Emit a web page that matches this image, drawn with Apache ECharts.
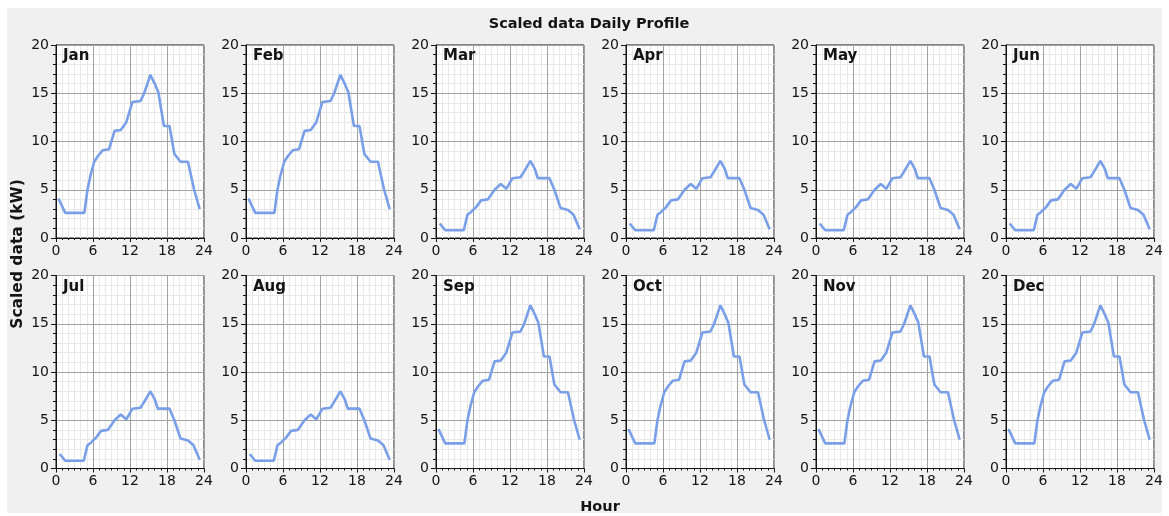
<!DOCTYPE html>
<html>
<head>
<meta charset="utf-8">
<title>Scaled data Daily Profile</title>
<script src="https://cdn.jsdelivr.net/npm/echarts@6/dist/echarts.min.js"></script>
<style>
  html, body { margin: 0; padding: 0; background: #ffffff; }
  #wrap { position: relative; width: 1169px; height: 516px; }
  #panel { position: absolute; left: 7px; top: 8px; width: 1155px; height: 505px; background: #f0f0f0; }
  #chart { position: absolute; left: 0; top: 0; width: 1169px; height: 516px; }
</style>
</head>
<body>
<div id="wrap">
  <div id="panel"></div>
  <div id="chart"></div>
</div>
<script>
// Month names, in panel order (6 per row)
const months = ['Jan', 'Feb', 'Mar', 'Apr', 'May', 'Jun', 'Jul', 'Aug', 'Sep', 'Oct', 'Nov', 'Dec'];
// Which daily profile each month uses
const monthProfile = ['winter', 'winter', 'summer', 'summer', 'summer', 'summer',
                      'summer', 'summer', 'winter', 'winter', 'winter', 'winter'];

// Winter profile (kW) against hour of day
const winterHours = [0.4, 1.5, 4.6, 5.1, 5.6, 6.2, 6.8, 7.6, 8.6, 9.5, 10.5, 11.4, 12.4, 13.7, 14.3, 15.3, 16.0, 16.6, 17.5, 18.4, 19.2, 20.2, 21.4, 22.4, 23.3];
const winterKw    = [4.1, 2.6, 2.6, 5.0, 6.5, 7.9, 8.5, 9.1, 9.2, 11.1, 11.2, 12.0, 14.1, 14.2, 15.0, 16.9, 16.0, 15.1, 11.6, 11.6, 8.7, 7.9, 7.9, 5.0, 3.0];

// Summer profile (kW) against hour of day
const summerHours = [0.6, 1.5, 4.5, 5.1, 5.7, 6.5, 7.3, 8.4, 9.5, 10.5, 11.4, 12.4, 13.7, 14.3, 15.3, 16.0, 16.5, 18.4, 19.2, 20.2, 21.4, 22.3, 23.3];
const summerKw    = [1.5, 0.8, 0.8, 2.4, 2.7, 3.2, 3.9, 4.0, 5.0, 5.6, 5.1, 6.2, 6.3, 6.9, 8.0, 7.2, 6.2, 6.2, 5.0, 3.1, 2.9, 2.4, 0.9];

// Axis ticks
const hourTicks = [0, 6, 12, 18, 24];
const kwTicks = [0, 5, 10, 15, 20];

const profiles = {
  winter: winterHours.map((h, i) => [h, winterKw[i]]),
  summer: summerHours.map((h, i) => [h, summerKw[i]])
};

const FONT = 'DejaVu Sans';
const INK = '#141414';
const COLS = 6;
const GRID_LEFT0 = 56, GRID_DX = 190, GRID_TOP0 = 45, GRID_DY = 230.5;
const GRID_W = 148, GRID_H = 193;

const grids = [], xAxes = [], yAxes = [], series = [], graphics = [];
const hidden = { show: false };

months.forEach((m, i) => {
  const col = i % COLS, row = Math.floor(i / COLS);
  const left = GRID_LEFT0 + GRID_DX * col;
  const top = GRID_TOP0 + GRID_DY * row;
  grids.push({
    left: left, top: top, width: GRID_W, height: GRID_H,
    show: true, backgroundColor: '#ffffff', borderColor: INK, borderWidth: 1
  });
  const xMin = hourTicks[0], xMax = hourTicks[hourTicks.length - 1];
  const yMin = kwTicks[0], yMax = kwTicks[kwTicks.length - 1];
  // main axes: frame, ticks, labels and the major grid
  xAxes.push({
    type: 'value', gridIndex: i, z: 2,
    min: xMin, max: xMax, interval: hourTicks[1] - hourTicks[0],
    axisLine: { show: true, onZero: false, lineStyle: { color: INK, width: 1 } },
    axisTick: { show: true, length: 4, lineStyle: { color: INK } },
    minorTick: { show: true, splitNumber: 6, length: 2, lineStyle: { color: INK } },
    splitLine: { show: true, lineStyle: { color: '#a2a2a2', width: 1 } },
    axisLabel: { color: INK, fontFamily: FONT, fontSize: 14, margin: 6, showMinLabel: true, showMaxLabel: true }
  });
  yAxes.push({
    type: 'value', gridIndex: i, z: 2,
    min: yMin, max: yMax, interval: kwTicks[1] - kwTicks[0],
    axisLine: { show: true, onZero: false, lineStyle: { color: INK, width: 1 } },
    axisTick: { show: true, length: 5, lineStyle: { color: INK } },
    minorTick: { show: true, splitNumber: 5, length: 3, lineStyle: { color: INK } },
    splitLine: { show: true, lineStyle: { color: '#a2a2a2', width: 1 } },
    axisLabel: { color: INK, fontFamily: FONT, fontSize: 14, margin: 7 }
  });
  series.push({
    type: 'line', xAxisIndex: i, yAxisIndex: i, z: 3,
    data: profiles[monthProfile[i]],
    showSymbol: false, symbol: 'none', silent: true,
    lineStyle: { color: '#7a9fe9', width: 2.6 },
    animation: false
  });
  graphics.push({
    type: 'text', left: left + 7, top: top + 4, z: 100,
    style: { text: m, fill: INK, font: 'bold 15px ' + FONT }
  });
});

// light minor grid (every hour / every kW), drawn underneath the major grid
months.forEach((m, i) => {
  xAxes.push({
    type: 'value', gridIndex: i, z: 1,
    min: hourTicks[0], max: hourTicks[hourTicks.length - 1], interval: 1,
    axisLine: hidden, axisTick: hidden, axisLabel: hidden,
    splitLine: { show: true, lineStyle: { color: '#e8e8e8', width: 1 } }
  });
  yAxes.push({
    type: 'value', gridIndex: i, z: 1,
    min: kwTicks[0], max: kwTicks[kwTicks.length - 1], interval: 1,
    axisLine: hidden, axisTick: hidden, axisLabel: hidden,
    splitLine: { show: true, lineStyle: { color: '#e8e8e8', width: 1 } }
  });
});

graphics.push({
  type: 'text', x: 18, y: 254, rotation: Math.PI / 2, z: 100,
  style: { text: 'Scaled data (kW)', fill: INK, font: 'bold 15.5px ' + FONT, align: 'center', verticalAlign: 'middle' }
});
graphics.push({
  type: 'text', x: 600, y: 507, z: 100,
  style: { text: 'Hour', fill: INK, font: 'bold 14.5px ' + FONT, align: 'center', verticalAlign: 'middle' }
});

const chart = echarts.init(document.getElementById('chart'), null, { renderer: 'canvas' });
chart.setOption({
  backgroundColor: 'transparent',
  animation: false,
  title: {
    text: 'Scaled data Daily Profile', left: 584, textAlign: 'center', top: 12,
    textStyle: { fontFamily: FONT, fontSize: 14.5, fontWeight: 'bold', color: INK }
  },
  grid: grids,
  xAxis: xAxes,
  yAxis: yAxes,
  series: series,
  graphic: graphics
});
</script>
</body>
</html>
